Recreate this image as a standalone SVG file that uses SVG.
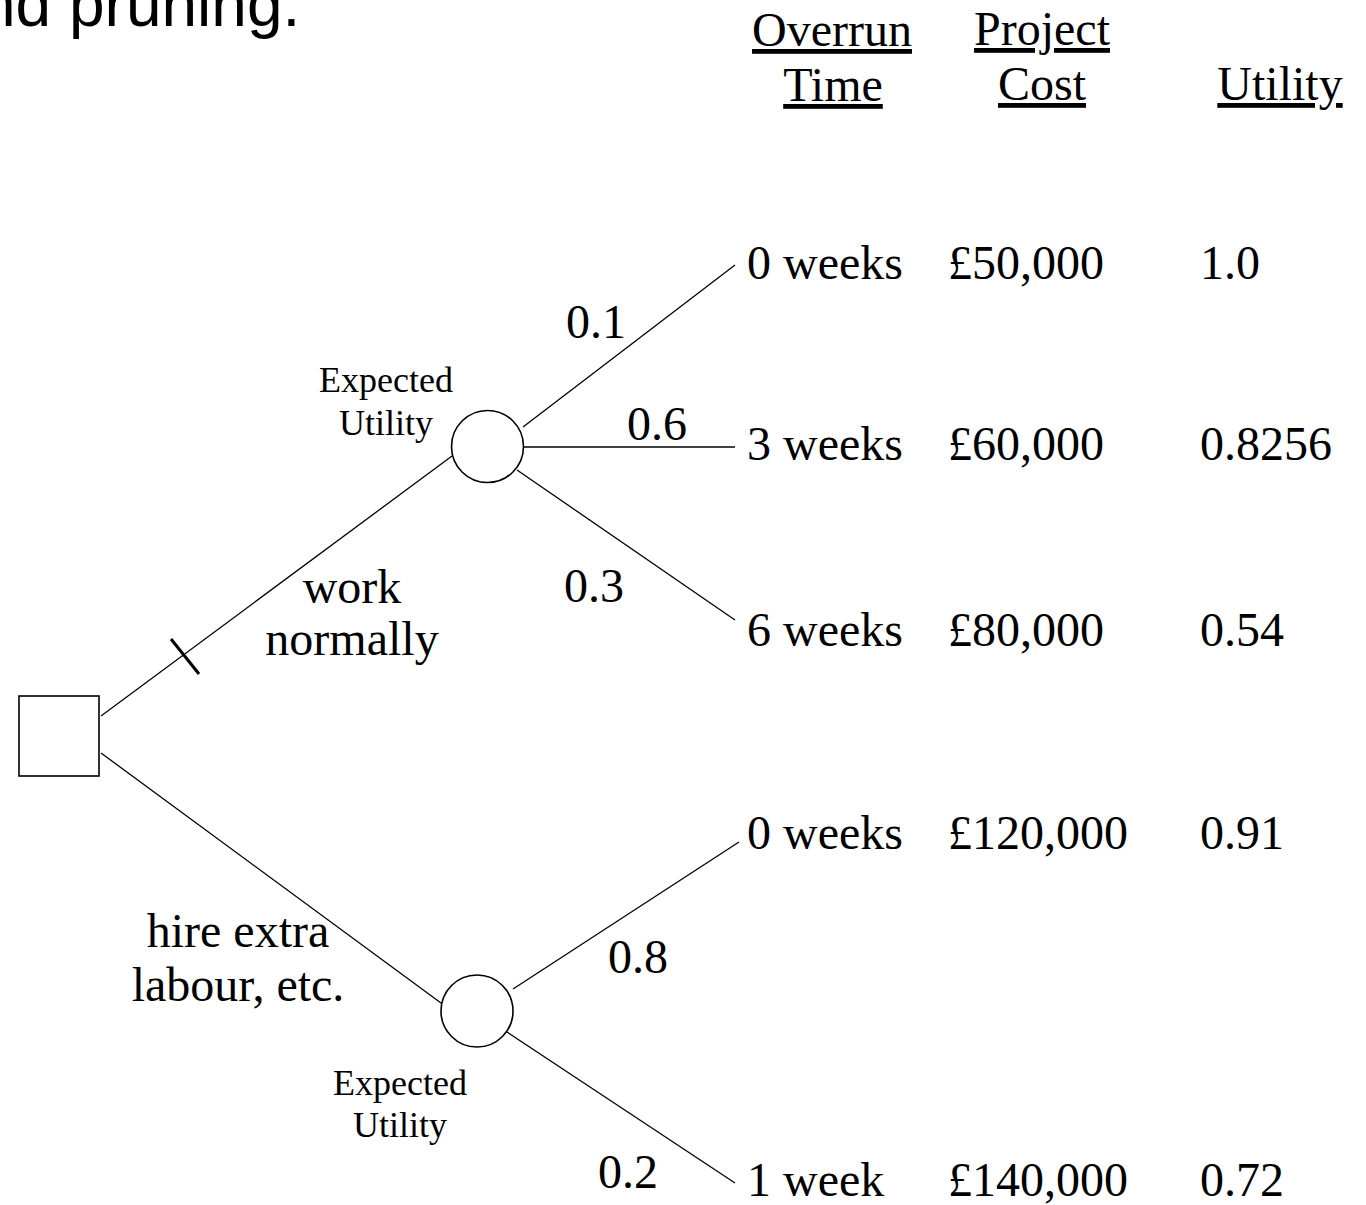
<svg xmlns="http://www.w3.org/2000/svg" width="1366" height="1205" viewBox="0 0 1366 1205">
<style>
  .t { font-family: "Liberation Serif", "Times New Roman", serif; fill: #000; }
  .big { font-size: 48px; }
  .small { font-size: 36px; }
  .hd { font-size: 48px; text-decoration: underline; }
  .edge { stroke: #000; stroke-width: 1.3; fill: none; }
  .node { stroke: #000; stroke-width: 1.6; fill: #fff; }
</style>
<rect width="1366" height="1205" fill="#fff"/>
<text x="-20" y="26" font-family="'Liberation Sans', Arial, sans-serif" font-size="64">nd pruning.</text>

<g id="headers">
  <text class="t hd" x="832" y="46" text-anchor="middle">Overrun</text>
  <text class="t hd" x="833" y="101" text-anchor="middle">Time</text>
  <text class="t hd" x="1042" y="45" text-anchor="middle">Project</text>
  <text class="t hd" x="1042" y="100" text-anchor="middle">Cost</text>
  <text class="t hd" x="1280" y="100" text-anchor="middle">Utility</text>
</g>

<g id="connectors">
  <line class="edge" x1="101" y1="716" x2="452" y2="456"/>
  <line x1="171" y1="639" x2="199" y2="674" stroke="#000" stroke-width="3"/>
  <line class="edge" x1="101" y1="753" x2="441" y2="1003"/>
  <line class="edge" x1="523" y1="427" x2="735" y2="265"/>
  <line class="edge" x1="524" y1="447" x2="735" y2="447"/>
  <line class="edge" x1="517" y1="470" x2="735" y2="620"/>
  <line class="edge" x1="513" y1="989" x2="739" y2="842"/>
  <line class="edge" x1="507" y1="1032" x2="735" y2="1183"/>
</g>

<g id="decision">
  <rect class="node" x="19" y="696" width="80" height="80"/>
</g>
<g id="chance-upper">
  <circle class="node" cx="487.5" cy="446.5" r="36"/>
  <text class="t small" x="386" y="392" text-anchor="middle">Expected</text>
  <text class="t small" x="386" y="435" text-anchor="middle">Utility</text>
</g>
<g id="chance-lower">
  <circle class="node" cx="477" cy="1011" r="36"/>
  <text class="t small" x="400" y="1095" text-anchor="middle">Expected</text>
  <text class="t small" x="400" y="1137" text-anchor="middle">Utility</text>
</g>

<g id="branch-labels">
  <text class="t big" x="352" y="603" text-anchor="middle">work</text>
  <text class="t big" x="352" y="655" text-anchor="middle">normally</text>
  <text class="t big" x="238" y="947" text-anchor="middle">hire extra</text>
  <text class="t big" x="238" y="1001" text-anchor="middle">labour, etc.</text>
  <text class="t big" x="566" y="338">0.1</text>
  <text class="t big" x="627" y="440">0.6</text>
  <text class="t big" x="564" y="602">0.3</text>
  <text class="t big" x="608" y="973">0.8</text>
  <text class="t big" x="598" y="1188">0.2</text>
</g>

<g id="outcome-1">
  <text class="t big" x="747" y="279">0 weeks</text>
  <text class="t big" x="948" y="279">£50,000</text>
  <text class="t big" x="1200" y="279">1.0</text>
</g>
<g id="outcome-2">
  <text class="t big" x="747" y="460">3 weeks</text>
  <text class="t big" x="948" y="460">£60,000</text>
  <text class="t big" x="1200" y="460">0.8256</text>
</g>
<g id="outcome-3">
  <text class="t big" x="747" y="646">6 weeks</text>
  <text class="t big" x="948" y="646">£80,000</text>
  <text class="t big" x="1200" y="646">0.54</text>
</g>
<g id="outcome-4">
  <text class="t big" x="747" y="849">0 weeks</text>
  <text class="t big" x="948" y="849">£120,000</text>
  <text class="t big" x="1200" y="849">0.91</text>
</g>
<g id="outcome-5">
  <text class="t big" x="747" y="1196">1 week</text>
  <text class="t big" x="948" y="1196">£140,000</text>
  <text class="t big" x="1200" y="1196">0.72</text>
</g>
</svg>
